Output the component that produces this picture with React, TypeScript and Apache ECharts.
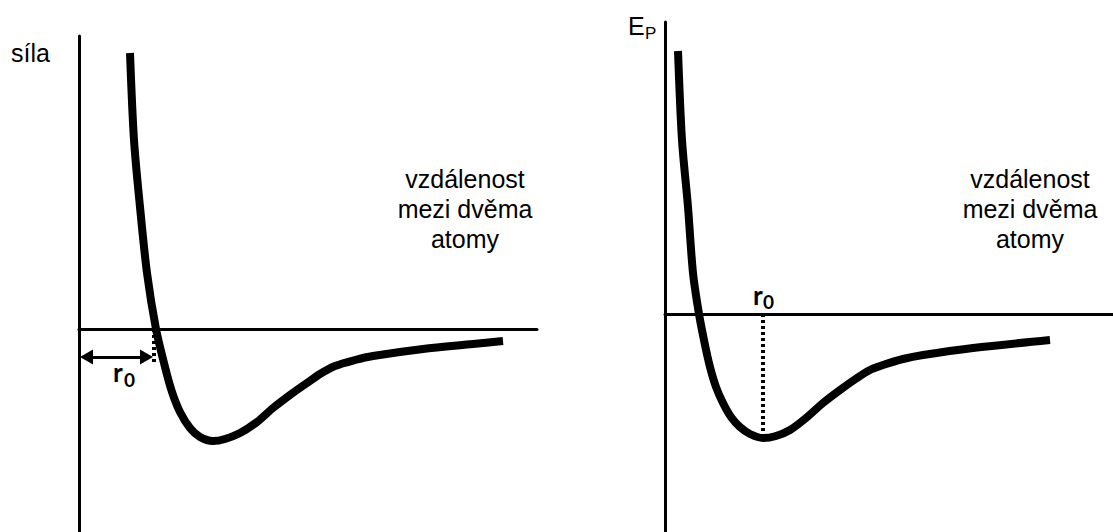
import React, { useEffect, useRef } from "react";
import * as echarts from "echarts";

// Left panel: force vs. distance (arbitrary units)
const leftR = [5.1, 5.5, 6.1, 6.8, 7.7, 8.6, 9.3, 10.1, 11.1, 12.1, 13.4, 14.6, 16.1, 17.8, 19.4, 21.1, 22.8, 24.1, 25.6, 27.6, 29.4, 34.4, 39.4, 42.4];
const leftForce = [27.6, 18.9, 12.2, 5.6, 0, -3.8, -6.3, -8.3, -9.9, -10.8, -11.2, -11.0, -10.4, -9.3, -7.9, -6.6, -5.4, -4.5, -3.7, -3.1, -2.7, -2.0, -1.5, -1.2];
// Right panel: potential energy vs. distance (arbitrary units)
const rightR = [1.3, 1.7, 2.3, 2.8, 3.4, 4.0, 4.5, 5.1, 5.8, 6.6, 7.5, 8.5, 9.8, 11.1, 12.5, 14.1, 15.8, 17.5, 19.2, 20.5, 21.8, 23.8, 25.8, 30.8, 38.5];
const rightEnergy = [26.3, 17.4, 10.7, 4.1, 0, -3.1, -5.3, -7.3, -8.9, -10.3, -11.3, -12.0, -12.4, -12.2, -11.6, -10.4, -8.9, -7.6, -6.4, -5.6, -5.1, -4.5, -4.1, -3.4, -2.6];

const leftR0 = 7.5;
const leftR0Drop = -3.4;
const leftArrowLevel = -2.8;
const leftArrowStart = 0.75;
const leftArrowEnd = 6.75;
const rightR0 = 9.8;
const rightR0Drop = -12.0;

const axisLabels = { force: "síla", energy: "E", energySub: "P", distance: "vzdálenost\nmezi dvěma\natomy", r: "r", rSub: "0" };

const zip = (a: number[], b: number[]) => a.map((v, i) => [v, b[i]]);

export default function App() {
  const ref = useRef<HTMLDivElement>(null);
  useEffect(() => {
    if (!ref.current) return;
    const chart = echarts.init(ref.current, null, { renderer: "svg" });
    const axisLine = { show: true, onZero: true, lineStyle: { color: "#000", width: 3 } };
    const hiddenAxis = {
      type: "value" as const,
      axisLine,
      axisTick: { show: false },
      axisLabel: { show: false },
      splitLine: { show: false },
    };
    const mainFont = "'Liberation Sans', Arial, sans-serif";
    const boldFont = "Lato, 'Open Sans', sans-serif";
    chart.setOption({
      animation: false,
      backgroundColor: "#fff",
      grid: [
        { left: 79, top: 36, width: 458, height: 496 },
        { left: 665, top: 22, width: 448, height: 510 },
      ],
      xAxis: [
        { ...hiddenAxis, gridIndex: 0, min: 0, max: 45.8 },
        { ...hiddenAxis, gridIndex: 1, min: 0, max: 44.8 },
      ],
      yAxis: [
        { ...hiddenAxis, gridIndex: 0, min: -20.3, max: 29.3 },
        { ...hiddenAxis, gridIndex: 1, min: -21.8, max: 29.2 },
      ],
      series: [
        {
          type: "line",
          xAxisIndex: 0,
          yAxisIndex: 0,
          data: zip(leftR, leftForce),
          smooth: 0.3,
          showSymbol: false,
          silent: true,
          lineStyle: { color: "#000", width: 8 },
        },
        {
          type: "line",
          xAxisIndex: 0,
          yAxisIndex: 0,
          data: [[leftR0, 0], [leftR0, leftR0Drop]],
          showSymbol: false,
          silent: true,
          lineStyle: { color: "#000", width: 4, type: [3, 3] },
          markLine: {
            silent: true,
            symbol: ["triangle", "triangle"],
            symbolSize: [15, 13],
            label: { show: false },
            lineStyle: { color: "#000", width: 3, type: "solid" },
            data: [[{ coord: [leftArrowStart, leftArrowLevel] }, { coord: [leftArrowEnd, leftArrowLevel] }]],
          },
        },
        {
          type: "line",
          xAxisIndex: 1,
          yAxisIndex: 1,
          data: zip(rightR, rightEnergy),
          smooth: 0.3,
          showSymbol: false,
          silent: true,
          lineStyle: { color: "#000", width: 8 },
        },
        {
          type: "line",
          xAxisIndex: 1,
          yAxisIndex: 1,
          data: [[rightR0, 0], [rightR0, rightR0Drop]],
          showSymbol: false,
          silent: true,
          lineStyle: { color: "#000", width: 4, type: [3, 3] },
        },
      ],
      graphic: [
        { type: "text", left: 11, top: 40, style: { text: axisLabels.force, font: `25px ${mainFont}`, fill: "#000" } },
        { type: "text", x: 628, y: 26, style: { text: axisLabels.energy, font: `25px ${mainFont}`, fill: "#000", verticalAlign: "middle" } },
        { type: "text", x: 645, y: 33, style: { text: axisLabels.energySub, font: `17px ${mainFont}`, fill: "#000", verticalAlign: "middle" } },
        { type: "text", x: 465, y: 209, style: { text: axisLabels.distance, font: `25px ${mainFont}`, lineHeight: 30, fill: "#000", align: "center", verticalAlign: "middle" } },
        { type: "text", x: 1030, y: 209, style: { text: axisLabels.distance, font: `25px ${mainFont}`, lineHeight: 30, fill: "#000", align: "center", verticalAlign: "middle" } },
        { type: "text", x: 113, y: 372, style: { text: axisLabels.r, font: `bold 26px ${boldFont}`, fill: "#000", verticalAlign: "middle" } },
        { type: "text", x: 124, y: 379, style: { text: axisLabels.rSub, font: `bold 19px ${boldFont}`, fill: "#000", verticalAlign: "middle" } },
        { type: "text", x: 753, y: 295, style: { text: axisLabels.r, font: `bold 26px ${boldFont}`, fill: "#000", verticalAlign: "middle" } },
        { type: "text", x: 763, y: 301, style: { text: axisLabels.rSub, font: `bold 19px ${boldFont}`, fill: "#000", verticalAlign: "middle" } },
      ],
    });
    return () => chart.dispose();
  }, []);
  return <div ref={ref} style={{ position: "absolute", left: 0, top: 0, width: 1113, height: 532 }} />;
}
